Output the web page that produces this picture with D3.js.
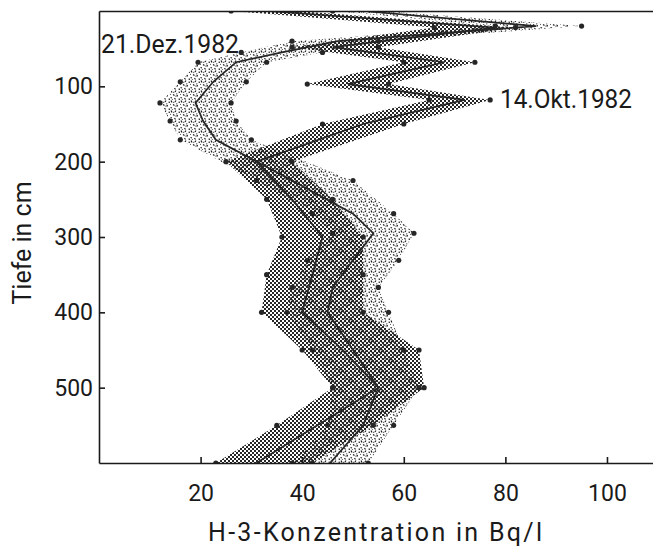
<!DOCTYPE html>
<meta charset="utf-8">
<style>

body {
  margin: 0;
  background: #fff;
}

svg {
  font-family: Roboto, "DejaVu Sans", sans-serif;
}

.axis path,
.axis line {
  stroke: #1a1a1a;
  stroke-width: 1.6px;
}

.axis text {
  font-size: 23px;
  fill: #1a1a1a;
}

.mean {
  fill: none;
  stroke: #262626;
  stroke-width: 1.7px;
}

.dot {
  fill: #262626;
}

.label, .title {
  font-size: 25px;
  fill: #1a1a1a;
}

</style>

<svg width="653" height="547"></svg>

<script src="https://d3js.org/d3.v7.min.js"></script>
<script>

// 14.Okt.1982 (checkered band)
var oktDepth = [0, 22, 48, 68, 97, 118, 150, 200, 250, 300, 350, 400, 450, 500, 550, 600];
var oktMean  = [33, 78, 46, 68, 49, 72, 52, 31, 38, 44, 42, 40, 48, 55, 43, 31];
var oktLow   = [26, 66, 38, 60, 41, 65, 44, 25, 33, 36, 33, 32, 40, 46, 35, 23];
var oktHigh  = [39, 82, 55, 74, 57, 77, 60, 38, 46, 52, 52, 52, 63, 64, 54, 42];

// 21.Dez.1982 (speckled band)
var dezDepth = [0, 20, 40, 55, 68, 94, 122, 146, 171, 225, 269, 295, 331, 367, 400, 450, 500, 550, 600];
var dezMean  = [52, 86, 47, 36, 27, 22.5, 19, 20.5, 23, 38, 50, 54, 50, 46, 45, 50, 55, 52, 45.5];
var dezLow   = [46, 78, 38, 28, 19.5, 16, 12, 14, 16, 31, 42, 46, 41, 38, 37, 42, 46, 45, 38];
var dezHigh  = [56, 95, 55, 44, 33, 29, 26, 27, 30, 50, 58, 62, 59, 55, 57, 60, 63, 58, 53];

var xTicks = [20, 40, 60, 80, 100];
var yTicks = [100, 200, 300, 400, 500];

var svg = d3.select("svg");

var x = d3.scaleLinear().domain([0, 109]).range([99, 652.7]),
    y = d3.scaleLinear().domain([0, 600]).range([11, 463]);

function rows(depth, mean, low, high) {
  return depth.map(function(d, i) {
    return {depth: d, mean: mean[i], low: low[i], high: high[i]};
  });
}

var okt = rows(oktDepth, oktMean, oktLow, oktHigh),
    dez = rows(dezDepth, dezMean, dezLow, dezHigh);

// patterns
var defs = svg.append("defs");

var checker = defs.append("pattern")
    .attr("id", "checker")
    .attr("patternUnits", "userSpaceOnUse")
    .attr("width", 4).attr("height", 4);
checker.append("rect").attr("x", 0).attr("y", 0).attr("width", 2).attr("height", 2).attr("fill", "#262626");
checker.append("rect").attr("x", 2).attr("y", 2).attr("width", 2).attr("height", 2).attr("fill", "#262626");

// rough stipple, like the scanned print
var speckle = defs.append("pattern")
    .attr("id", "speckle")
    .attr("patternUnits", "userSpaceOnUse")
    .attr("width", 10).attr("height", 10);
speckle.append("path")
    .attr("d", "M1 0.5l1 2M6 0.5l-1 1.5M8.5 2l1.5 0.5M3 4.5l1.5 1M7.5 5l-0.5 1.5M0.5 7.5l1.5 0.5M4.5 8l1 1.5M9 8.5l0.5 1.5M3.5 2l0.6 0.6M6.5 3.5l0.5 0.8M2 9.5l0.6 0.5M0 4l0.5 0.8M5.5 6l0.8 0.3")
    .attr("stroke", "#1a1a1a")
    .attr("stroke-width", 1.2)
    .attr("fill", "none");

defs.append("clipPath").attr("id", "plot")
  .append("rect")
    .attr("x", 99).attr("y", 11)
    .attr("width", 554).attr("height", 452);

var area = d3.area()
    .y(function(d) { return y(d.depth); })
    .x0(function(d) { return x(d.low); })
    .x1(function(d) { return x(d.high); });

var line = d3.line()
    .x(function(d) { return x(d.mean); })
    .y(function(d) { return y(d.depth); });

var plot = svg.append("g").attr("clip-path", "url(#plot)");

plot.append("path").datum(okt).attr("d", area).attr("fill", "url(#checker)");
plot.append("path").datum(dez).attr("d", area).attr("fill", "url(#speckle)");

[okt, dez].forEach(function(data) {
  plot.append("path").datum(data).attr("class", "mean").attr("d", line);

  var edges = [];
  data.forEach(function(d) {
    edges.push({v: d.low, depth: d.depth});
    edges.push({v: d.high, depth: d.depth});
  });
  plot.selectAll(null)
    .data(edges)
    .enter().append("circle")
      .attr("class", "dot")
      .attr("cx", function(d) { return x(d.v); })
      .attr("cy", function(d) { return y(d.depth); })
      .attr("r", 2.6);
});

// frame + axes
svg.append("g")
    .attr("class", "axis")
    .attr("transform", "translate(0,463)")
    .call(d3.axisBottom(x).tickValues(xTicks).tickSizeInner(-6).tickSizeOuter(0).tickPadding(22));

svg.append("g")
    .attr("class", "axis")
    .attr("transform", "translate(99,0)")
    .call(d3.axisLeft(y).tickValues(yTicks).tickSizeInner(-6).tickSizeOuter(0).tickPadding(6));

svg.append("g")
    .attr("class", "axis")
    .attr("transform", "translate(0,11)")
    .call(d3.axisTop(x).tickValues([]).tickSizeOuter(0));

svg.selectAll(".axis").attr("font-family", null).attr("font-size", null);

// labels
svg.append("text")
    .attr("class", "label")
    .attr("x", 101).attr("y", 53)
    .attr("textLength", 138)
    .attr("lengthAdjust", "spacingAndGlyphs")
    .text("21.Dez.1982");

svg.append("text")
    .attr("class", "label")
    .attr("x", 500).attr("y", 108)
    .attr("textLength", 132)
    .attr("lengthAdjust", "spacingAndGlyphs")
    .text("14.Okt.1982");

svg.append("text")
    .attr("class", "title")
    .attr("x", 375).attr("y", 541)
    .attr("text-anchor", "middle")
    .attr("textLength", 334)
    .attr("lengthAdjust", "spacing")
    .text("H-3-Konzentration in Bq/l");

svg.append("text")
    .attr("class", "title")
    .attr("transform", "translate(31,243) rotate(-90)")
    .attr("text-anchor", "middle")
    .text("Tiefe in cm");

</script>
